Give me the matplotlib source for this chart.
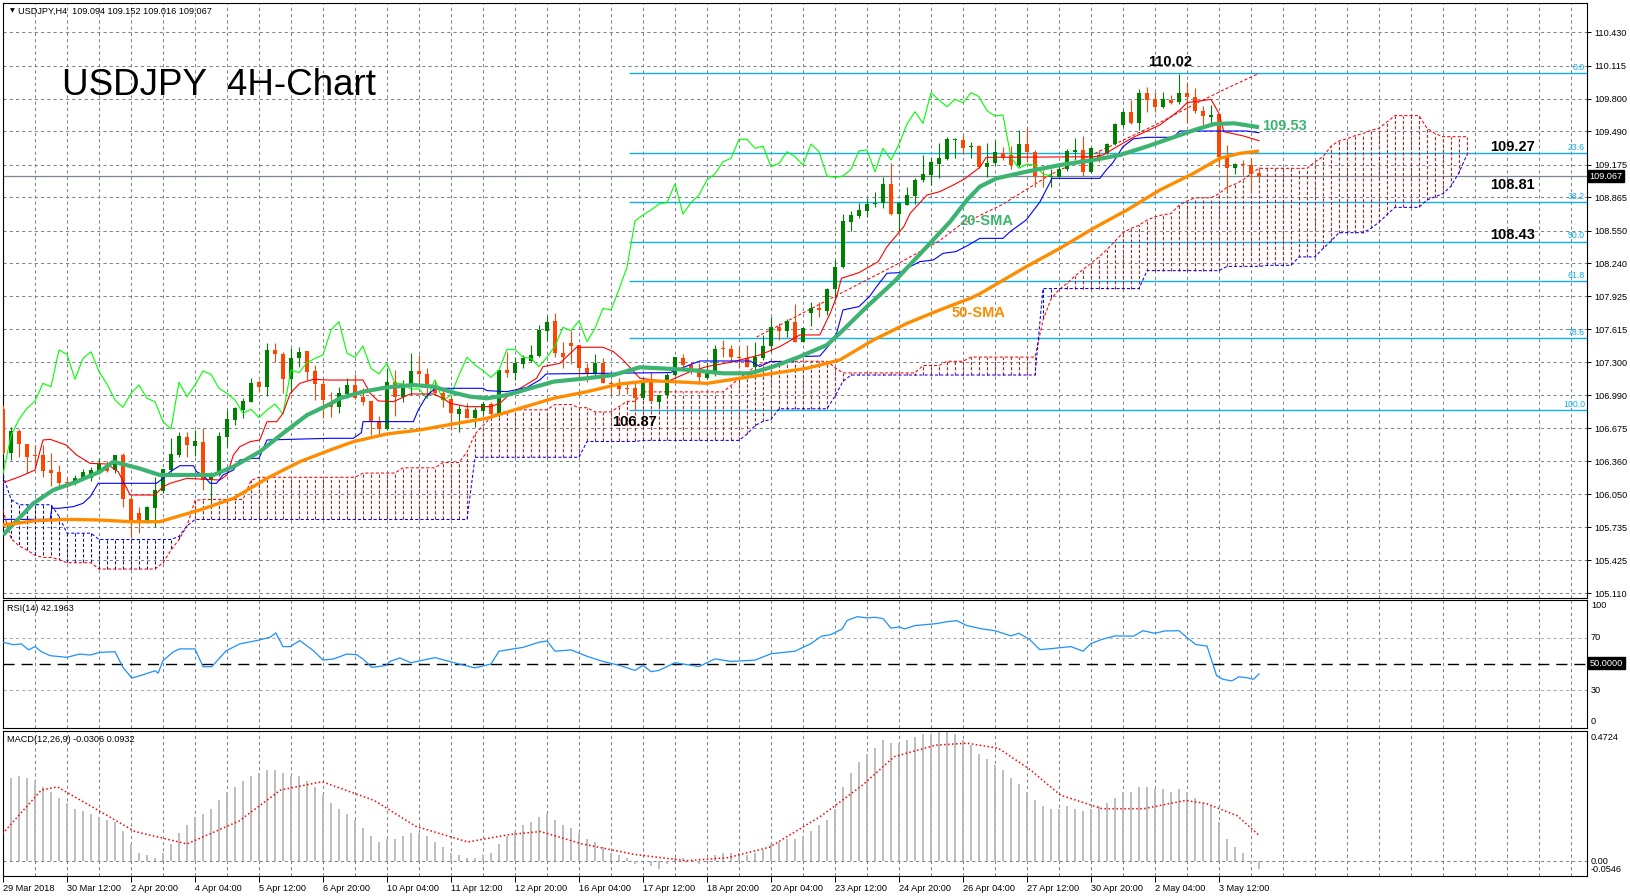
import numpy as np
import pandas as pd
import matplotlib
matplotlib.use("Agg")
import matplotlib.pyplot as plt

plt.rcParams['font.family'] = ['Liberation Sans', 'DejaVu Sans']

# ---------------- data (bar 1 = 29 Mar 2018 04:00, bar 158 = 4 May 08:00) ----------------
opens = [106.854, 106.443, 106.652, 106.526, 106.421, 106.424, 106.279, 106.260, 106.165, 106.153,
         106.191, 106.200, 106.270, 106.326, 106.279, 106.421, 106.001, 105.868, 105.789, 105.922,
         106.083, 106.279, 106.421, 106.595, 106.507, 106.541, 106.184, 106.232, 106.595, 106.753,
         106.848, 106.927, 107.117, 107.069, 107.417, 107.376, 107.139, 107.338, 107.408, 107.221,
         107.095, 106.927, 106.874, 107.000, 107.085, 106.968, 106.937, 106.738, 106.668, 107.111,
         106.975, 107.076, 107.218, 107.187, 107.076, 107.006, 106.950, 106.810, 106.855, 106.776,
         106.842, 106.905, 106.810, 107.228, 107.202, 107.285, 107.316, 107.360, 107.600, 107.692,
         107.386, 107.487, 107.465, 107.243, 107.190, 107.297, 107.101, 107.095, 107.054, 107.054,
         106.959, 107.139, 106.927, 106.991, 107.180, 107.345, 107.275, 107.219, 107.155, 107.203,
         107.433, 107.424, 107.354, 107.338, 107.260, 107.338, 107.455, 107.632, 107.600, 107.686,
         107.496, 107.772, 107.812, 107.790, 107.993, 108.202, 108.635, 108.688, 108.739, 108.799,
         108.815, 108.992, 108.707, 108.793, 108.878, 109.030, 109.077, 109.182, 109.229, 109.409,
         109.409, 109.339, 109.351, 109.156, 109.194, 109.282, 109.266, 109.171, 109.371, 109.298,
         109.067, 109.054, 109.061, 109.130, 109.298, 109.314, 109.108, 109.266, 109.282, 109.367,
         109.550, 109.677, 109.573, 109.851, 109.794, 109.724, 109.788, 109.772, 109.857, 109.820,
         109.687, 109.630, 109.655, 109.244, 109.140, 109.178, 109.171, 109.094]
highs = [106.900, 106.690, 106.665, 106.530, 106.516, 106.516, 106.437, 106.326, 106.210, 106.230,
         106.285, 106.310, 106.390, 106.367, 106.421, 106.437, 106.026, 105.931, 105.938, 106.216,
         106.289, 106.586, 106.643, 106.643, 106.658, 106.674, 106.263, 106.643, 106.848, 106.880,
         106.959, 107.148, 107.132, 107.487, 107.487, 107.401, 107.433, 107.449, 107.408, 107.275,
         107.132, 107.022, 107.070, 107.149, 107.190, 107.054, 106.937, 106.792, 107.243, 107.228,
         107.130, 107.386, 107.370, 107.243, 107.130, 107.038, 106.975, 106.896, 106.912, 106.880,
         106.927, 106.927, 107.228, 107.402, 107.348, 107.370, 107.465, 107.654, 107.740, 107.771,
         107.496, 107.600, 107.465, 107.290, 107.380, 107.338, 107.130, 107.149, 107.100, 107.101,
         107.165, 107.212, 106.991, 107.196, 107.354, 107.380, 107.307, 107.291, 107.307, 107.465,
         107.512, 107.465, 107.449, 107.465, 107.496, 107.560, 107.734, 107.670, 107.708, 107.854,
         107.623, 107.876, 107.876, 108.002, 108.271, 108.707, 108.739, 108.808, 108.856, 108.919,
         109.061, 109.188, 108.824, 108.967, 109.045, 109.267, 109.245, 109.377, 109.440, 109.425,
         109.456, 109.393, 109.361, 109.383, 109.408, 109.345, 109.352, 109.503, 109.528, 109.314,
         109.124, 109.130, 109.187, 109.320, 109.424, 109.446, 109.345, 109.314, 109.383, 109.573,
         109.693, 109.788, 109.889, 109.914, 109.867, 109.867, 109.835, 110.034, 109.962, 109.898,
         109.731, 109.740, 109.655, 109.361, 109.187, 109.219, 109.235, 109.152]
lows = [106.430, 106.374, 106.399, 106.254, 106.295, 106.216, 106.127, 106.121, 106.105, 106.137,
        106.184, 106.178, 106.241, 106.260, 106.248, 105.931, 105.631, 105.685, 105.773, 105.742,
        106.058, 106.263, 106.405, 106.405, 106.415, 106.090, 105.979, 106.222, 106.500, 106.706,
        106.769, 106.927, 107.022, 106.981, 107.306, 107.006, 107.006, 107.259, 107.132, 106.943,
        106.769, 106.785, 106.823, 106.959, 106.950, 106.896, 106.611, 106.605, 106.659, 106.795,
        106.927, 106.990, 107.101, 106.959, 106.990, 106.880, 106.659, 106.637, 106.770, 106.690,
        106.801, 106.785, 106.785, 107.165, 107.133, 107.243, 107.307, 107.354, 107.512, 107.348,
        107.243, 107.285, 107.165, 107.117, 107.165, 107.100, 106.990, 106.990, 106.999, 106.850,
        106.943, 106.927, 106.880, 106.981, 107.171, 107.244, 107.190, 107.095, 107.139, 107.171,
        107.354, 107.307, 107.244, 107.254, 107.196, 107.323, 107.402, 107.512, 107.544, 107.496,
        107.496, 107.645, 107.727, 107.749, 107.892, 108.192, 108.549, 108.666, 108.682, 108.777,
        108.761, 108.698, 108.549, 108.793, 108.802, 109.014, 108.982, 109.045, 109.219, 109.235,
        109.276, 109.235, 109.140, 109.061, 109.172, 109.219, 109.130, 109.155, 109.203, 108.960,
        108.966, 108.960, 109.045, 109.118, 109.219, 109.067, 109.099, 109.203, 109.276, 109.358,
        109.535, 109.560, 109.503, 109.677, 109.677, 109.709, 109.750, 109.750, 109.573, 109.661,
        109.551, 109.566, 109.150, 108.918, 109.086, 109.077, 108.903, 109.016]
closes = [106.443, 106.652, 106.522, 106.406, 106.412, 106.270, 106.254, 106.159, 106.153, 106.200,
          106.260, 106.279, 106.336, 106.273, 106.421, 106.001, 105.773, 105.799, 105.931, 106.089,
          106.289, 106.431, 106.601, 106.513, 106.554, 106.184, 106.241, 106.605, 106.760, 106.864,
          106.933, 107.101, 107.069, 107.417, 107.376, 107.139, 107.338, 107.401, 107.212, 107.095,
          106.943, 106.874, 107.006, 107.085, 106.959, 106.927, 106.738, 106.668, 107.111, 106.975,
          107.085, 107.218, 107.187, 107.054, 107.006, 106.943, 106.817, 106.855, 106.776, 106.848,
          106.905, 106.810, 107.228, 107.202, 107.297, 107.338, 107.370, 107.607, 107.686, 107.386,
          107.348, 107.455, 107.243, 107.190, 107.291, 107.101, 107.095, 107.048, 107.048, 106.959,
          107.133, 106.937, 106.991, 107.180, 107.348, 107.275, 107.222, 107.158, 107.228, 107.424,
          107.424, 107.348, 107.338, 107.260, 107.348, 107.455, 107.632, 107.600, 107.696, 107.496,
          107.623, 107.812, 107.797, 107.993, 108.202, 108.641, 108.698, 108.745, 108.802, 108.815,
          108.992, 108.707, 108.815, 108.887, 109.030, 109.087, 109.203, 109.235, 109.415, 109.415,
          109.330, 109.351, 109.156, 109.187, 109.298, 109.251, 109.171, 109.371, 109.298, 109.067,
          109.054, 109.067, 109.130, 109.307, 109.314, 109.108, 109.330, 109.219, 109.367, 109.561,
          109.677, 109.566, 109.857, 109.788, 109.724, 109.794, 109.762, 109.857, 109.820, 109.687,
          109.636, 109.645, 109.244, 109.140, 109.181, 109.171, 109.086, 109.067]

# moving averages (bar, value)
sma20_i = [1, 4.8, 7.3, 10.2, 13.1, 14.8, 18, 20.6, 24, 27.3, 29.8, 33.1, 36, 39, 41.9, 43.1, 46, 49,
           52.3, 54.8, 57.3, 59.4, 61.5, 64, 66.9, 69.8, 74, 77.3, 80.6, 83.1, 86.9, 91, 94.4, 97.3,
           100.6, 104, 105.6, 109, 112.4, 116.1, 119.4, 121.5, 123.1, 125.2, 128.9, 133.1, 137.3,
           140.6, 143.9, 147.3, 149.9, 152.4, 154.9, 158]
sma20_v = [105.663, 105.963, 106.09, 106.168, 106.263, 106.358, 106.295, 106.232, 106.232, 106.232,
           106.311, 106.453, 106.627, 106.8, 106.905, 106.959, 107.022, 107.063, 107.085, 107.07,
           107.013, 106.975, 106.959, 106.99, 107.054, 107.117, 107.149, 107.18, 107.253, 107.244,
           107.228, 107.196, 107.196, 107.26, 107.354, 107.465, 107.576, 107.829, 108.066, 108.366,
           108.635, 108.84, 108.966, 109.045, 109.108, 109.171, 109.219, 109.266, 109.345, 109.434,
           109.503, 109.56, 109.567, 109.53]
sma50_i = [1, 5, 9, 13, 17, 20.6, 22.7, 25.6, 29.8, 34, 38.1, 41.9, 44.8, 49, 53.1, 57.3, 61.5, 65.6,
           69.8, 74, 78.1, 81.9, 84.8, 89, 93.1, 97.3, 101.5, 105.6, 109.8, 114, 118.1, 121.9, 123.1,
           128.9, 133.1, 137.3, 141.5, 145.6, 149.8, 153.1, 155.6, 158]
sma50_v = [105.757, 105.798, 105.811, 105.805, 105.789, 105.789, 105.836, 105.9, 106.01, 106.2,
           106.358, 106.469, 106.548, 106.621, 106.659, 106.716, 106.77, 106.864, 106.959, 107.022,
           107.095, 107.125, 107.117, 107.101, 107.149, 107.196, 107.244, 107.323, 107.512, 107.67,
           107.797, 107.907, 107.95, 108.207, 108.381, 108.571, 108.745, 108.934, 109.092, 109.235,
           109.282, 109.304]

# Ichimoku lines (bar, value)
tenkan_i = [1, 3.1, 5, 6, 6.9, 8.9, 10.2, 11.9, 14, 15.4, 16.9, 20, 21, 21.9, 24, 28.1, 29, 29.8, 30.6,
            31.9, 33.1, 34, 35.2, 36, 36.9, 38.1, 39.8, 41.9, 46, 46.9, 47.9, 49.8, 51.9, 54.8, 56,
            56.9, 59, 61.9, 63.1, 64.1, 66, 67.7, 68.5, 70.6, 72.7, 76, 77.3, 78.5, 80.6, 84, 86.9,
            89, 92.3, 95.6, 98.1, 100.6, 103.1, 104.4, 105.2, 105.8, 108, 110.4, 111.5, 113.6, 114.4,
            116.5, 118.1, 119.8, 121.2, 123.1, 123.9, 137.3, 138.5, 140.6, 142.3, 145.6, 148.1, 149,
            152, 153, 153.6, 156.1, 158]
tenkan_v = [106.159, 106.216, 106.279, 106.564, 106.57, 106.516, 106.421, 106.342, 106.336, 106.263,
            106.042, 106.042, 106.121, 106.153, 106.2, 106.184, 106.232, 106.421, 106.5, 106.548,
            106.564, 106.737, 106.737, 106.816, 107.006, 107.101, 107.139, 107.132, 107.133, 107.006,
            106.934, 106.927, 107.0, 107.0, 106.959, 106.912, 106.88, 106.88, 106.912, 106.981,
            107.07, 107.149, 107.259, 107.291, 107.443, 107.443, 107.402, 107.323, 107.15, 107.117,
            107.212, 107.26, 107.307, 107.37, 107.449, 107.56, 107.56, 107.765, 107.923, 108.097,
            108.151, 108.255, 108.397, 108.587, 108.714, 108.887, 108.919, 108.982, 109.04, 109.149,
            109.244, 109.25, 109.266, 109.361, 109.434, 109.551, 109.693, 109.763, 109.794, 109.661,
            109.488, 109.446, 109.402]
kijun_i = [1, 6.9, 7.1, 8, 9.8, 11, 11.9, 12.9, 20.2, 21, 21.9, 23.1, 24.8, 25.2, 26, 26.9, 27.7, 28.5,
           29.8, 30.6, 32.3, 33, 34, 41.9, 44.8, 45.8, 46, 52.3, 52.9, 53.9, 55, 61, 61.5, 64, 66.5,
           68.1, 68.9, 84.4, 88.1, 94.4, 95.6, 96.9, 99.8, 100.2, 103.1, 104.1, 105.2, 106, 108,
           109.3, 110.2, 111.5, 113.1, 114, 115.6, 117.3, 118.5, 120.1, 121.7, 123.1, 126, 126.9,
           128.9, 130.6, 131.9, 132.1, 138.1, 138.9, 139.7, 141, 142.3, 144, 147.3, 148.1, 156.4, 158]
kijun_v = [105.811, 105.811, 105.916, 105.916, 105.932, 105.963, 106.026, 106.153, 106.153, 106.2,
           106.263, 106.32, 106.32, 106.263, 106.232, 106.153, 106.153, 106.232, 106.279, 106.374,
           106.39, 106.39, 106.564, 106.58, 106.58, 106.633, 106.738, 106.738, 106.848, 106.975,
           107.054, 107.054, 107.032, 107.022, 107.063, 107.133, 107.19, 107.203, 107.313, 107.313,
           107.26, 107.307, 107.307, 107.354, 107.36, 107.449, 107.576, 107.797, 107.829, 107.923,
           108.018, 108.145, 108.151, 108.192, 108.255, 108.271, 108.334, 108.35, 108.413, 108.476,
           108.476, 108.54, 108.65, 108.82, 109.01, 109.045, 109.045, 109.124, 109.19, 109.345,
           109.42, 109.434, 109.434, 109.494, 109.494, 109.478]
# Senkou spans per bar, bars 1..184 (cloud runs 26 bars past the last candle)
span_a = ([105.90, 105.63, 105.56, 105.52, 105.47, 105.45, 105.45, 105.43] + [105.40] * 4 + [105.34] * 8
          + [105.40, 105.52, 105.62, 105.75, 105.99] + [106.00] * 6 + [106.18] + [106.21] * 13
          + [106.25] * 5 + [106.30] * 5 + [106.35] * 3 + [106.45, 106.62, 106.70, 106.78, 106.83, 106.83]
          + [106.85] * 5 + [106.90] * 3 + [106.87] * 2 + [106.83] * 3 + [106.88, 106.93, 106.93]
          + [107.02] * 11 + [107.08, 107.15, 107.20, 107.26, 107.29] + [107.31] * 8 + [107.25]
          + [107.20] * 10 + [107.27] * 3 + [107.31] * 3 + [107.35] * 9
          + [107.70, 107.90, 107.99, 108.05, 108.12, 108.18, 108.24, 108.30, 108.37, 108.45, 108.53,
             108.57, 108.60, 108.65, 108.68, 108.70, 108.71, 108.79, 108.83, 108.86, 108.86, 108.86,
             108.90, 108.96, 108.99, 109.03, 109.09]
          + [109.14] * 7 + [109.20, 109.25, 109.35, 109.40, 109.42, 109.45, 109.47, 109.50, 109.52, 109.58]
          + [109.64] * 4 + [109.52, 109.47] + [109.44] * 4)
span_b = ([106.23, 106.00] + [105.95] * 5 + [105.84] + [105.68] * 4 + [105.62] * 10 + [105.65, 105.75]
          + [105.81] * 35 + [106.40] * 14 + [106.55] * 7 + [106.56] * 13 + [106.62, 106.70, 106.74, 106.76]
          + [106.86] * 7 + [106.98, 107.12] + [107.18] * 24 + [108.00] * 13 + [108.17] * 10
          + [108.21] * 5 + [108.22] * 4 + [108.30] * 3 + [108.38, 108.45] + [108.53] * 4
          + [108.57, 108.63, 108.70] + [108.77] * 4 + [108.84, 108.87, 108.90, 108.97, 109.10, 109.27])

# red dashed rising line
trend_i = [95.2, 105.6, 112, 118, 120.6, 126, 131.9, 138, 145, 150, 154, 158]
trend_v = [107.54, 107.95, 108.2, 108.45, 108.6, 108.8, 109.08, 109.3, 109.55, 109.75, 109.9, 110.04]

# RSI(14) (bar, value)
rsi_i = [1, 2.3, 3.3, 4.2, 5, 5.8, 6.9, 9, 10.6, 11.9, 13.1, 15, 16, 17.1, 18.5, 20, 20.4, 21, 22.3, 23.1,
         25, 26, 27.1, 28.9, 30.6, 32.7, 34.4, 35.1, 36, 36.9, 38.1, 39.8, 41, 42.3, 44, 45.2, 46,
         47.1, 48.8, 49.4, 50.6, 52, 55, 58, 60, 62, 63, 66, 68, 69, 70, 72, 74, 76, 78, 80, 81, 82,
         83, 85, 88, 90, 92, 95, 97, 100, 102, 103.3, 104.5, 105.9, 106.5, 107.8, 109, 110, 111, 112,
         113, 113.7, 115, 117.6, 119, 120.2, 121.5, 123.4, 125, 127, 128, 129.3, 130.6, 132, 134.5,
         136, 137, 138.4, 140, 142.3, 143.5, 145, 146.2, 148, 148.8, 150.1, 151.5, 152.7, 153.5,
         154.6, 155.5, 156.6, 157.3, 158]
rsi_v = [66.97, 65.1, 65.7, 61.0, 63.6, 59.6, 56.5, 55.2, 57.8, 57.0, 59.1, 59.6, 47.4, 39.0, 41.6, 44.7,
         42.9, 52.6, 59.6, 61.8, 61.8, 47.9, 47.9, 60.4, 65.7, 68.3, 70.9, 74.3, 63.6, 63.6, 68.3, 60.4,
         53.1, 53.9, 57.8, 57.3, 53.9, 47.4, 48.7, 52.1, 54.7, 51, 55, 50, 47, 50, 60, 63, 67, 68, 60,
         61, 56, 52, 49, 45, 49, 44, 45, 51, 48, 54, 52, 53, 58, 60, 66, 71.7, 73, 77.4, 84, 87, 86,
         86.5, 85.5, 78, 79, 77.4, 80, 81.5, 83, 83.9, 80, 77.4, 76, 72, 74, 69.3, 61.2, 62, 63.6, 60,
         66, 69.3, 72, 71.7, 76, 74, 75.8, 76, 71.7, 65.2, 64, 40.9, 38, 36.8, 40, 39.2, 38, 42.2]

# MACD(12,26,9) main per bar 1..158 and signal (bar, value)
macd_main = [0.29, 0.30, 0.31, 0.30, 0.29, 0.27, 0.25, 0.23, 0.21, 0.19, 0.18, 0.17, 0.16, 0.15, 0.14,
             0.11, 0.06, 0.03, 0.02, 0.01, 0.03, 0.06, 0.10, 0.13, 0.16, 0.17, 0.19, 0.22, 0.25, 0.27,
             0.29, 0.31, 0.32, 0.33, 0.33, 0.32, 0.31, 0.31, 0.29, 0.27, 0.24, 0.21, 0.19, 0.17, 0.15,
             0.12, 0.09, 0.07, 0.08, 0.08, 0.09, 0.10, 0.10, 0.09, 0.07, 0.05, 0.03, 0.02, 0.01, 0.01,
             0.02, 0.03, 0.06, 0.09, 0.11, 0.13, 0.14, 0.16, 0.17, 0.15, 0.13, 0.12, 0.10, 0.08, 0.07,
             0.05, 0.03, 0.02, 0.01, -0.01, 0.00, -0.02, -0.03, -0.01, 0.01, 0.01, 0.00, -0.01, 0.00,
             0.02, 0.03, 0.03, 0.03, 0.02, 0.03, 0.04, 0.06, 0.07, 0.08, 0.08, 0.09, 0.11, 0.13, 0.15,
             0.19, 0.27, 0.32, 0.36, 0.39, 0.41, 0.44, 0.43, 0.43, 0.44, 0.45, 0.46, 0.46, 0.47, 0.47,
             0.46, 0.44, 0.42, 0.39, 0.37, 0.35, 0.33, 0.30, 0.28, 0.25, 0.22, 0.20, 0.19, 0.19, 0.20,
             0.19, 0.18, 0.19, 0.20, 0.21, 0.23, 0.25, 0.25, 0.27, 0.27, 0.26, 0.26, 0.25, 0.26, 0.25,
             0.23, 0.21, 0.20, 0.14, 0.08, 0.05, 0.03, -0.01, -0.0306]
sig_i = [0.6, 5.8, 7.8, 17.5, 24, 30.5, 35.7, 40.9, 47.4, 52.6, 59.1, 64.3, 68.2, 73.4, 79.9, 86.4, 91.6,
         96.8, 103.3, 108.5, 112.4, 117.6, 121.5, 125.4, 129.3, 133.2, 138.4, 143.6, 148.8, 151.4,
         155.3, 158]
sig_v = [0.088, 0.258, 0.269, 0.107, 0.062, 0.145, 0.258, 0.288, 0.22, 0.126, 0.069, 0.096, 0.107,
         0.062, 0.024, 0.001, 0.012, 0.05, 0.164, 0.277, 0.379, 0.421, 0.428, 0.41, 0.334, 0.239, 0.19,
         0.19, 0.22, 0.209, 0.164, 0.0932]

price_ticks = [110.430, 110.115, 109.800, 109.490, 109.175, 108.865, 108.550, 108.240, 107.925,
               107.615, 107.300, 106.990, 106.675, 106.360, 106.050, 105.735, 105.425, 105.110]
fib_levels = [0.0, 23.6, 38.2, 50.0, 61.8, 78.6, 100.0]
fib_high, fib_low = 110.04, 106.85
last_price = 109.067

# ---------------- layout ----------------
W, H = 1630, 896
fig = plt.figure(figsize=(W / 100, H / 100), dpi=100)
fig.patch.set_facecolor('white')


def pax(x0, y0, x1, y1):
    return fig.add_axes([x0 / W, 1 - y1 / H, (x1 - x0) / W, (y1 - y0) / H])


def xb(px):  # pixel column -> bar index (8 px per bar)
    return (px + 5.0) / 8.0


def ftext(x, y, s, **kw):
    return fig.text(x / W, 1 - y / H, s, **kw)


ax = pax(3, 3, 1587, 598)
axr = pax(3, 600, 1587, 728)
axm = pax(3, 731, 1587, 876)
XL = (xb(3), xb(1587))
for a in (ax, axr, axm):
    a.set_xlim(*XL)
    a.set_facecolor('white')
    for s in a.spines.values():
        s.set_color('black')
        s.set_linewidth(0.8)
    a.tick_params(axis='x', which='both', bottom=False, labelbottom=False)
    a.yaxis.tick_right()


def pyy(y):
    return 110.43 - (y - 32.3) / 105.45


ax.set_ylim(pyy(598), pyy(3))
axr.set_ylim(0, 100)
axm.set_ylim(-0.0546, 0.4724)

GRID = '#7a8590'
GLS = (0, (3, 3))
vgrid = np.arange(1, 200, 4)
for a in (ax, axr, axm):
    for xv in vgrid:
        a.axvline(xv, color=GRID, lw=0.75, ls=GLS, zorder=0)
for p in price_ticks:
    ax.axhline(p, color=GRID, lw=0.75, ls=GLS, zorder=0)

bars = np.arange(1, len(closes) + 1)
O, Hh, L, C = map(np.array, (opens, highs, lows, closes))

# fibonacci
fib_col = '#12AEEA'
fx0 = xb(629)
for lv in fib_levels:
    p = fib_high - lv / 100 * (fib_high - fib_low)
    ax.plot([fx0, XL[1]], [p, p], color=fib_col, lw=1.0, zorder=2, solid_capstyle='butt')
    ax.text(xb(1585), p + 0.012, f"{lv:.1f}", color=fib_col, fontsize=6.3, ha='right', va='bottom', zorder=3)

# current price line
ax.axhline(last_price, color='#7c8791', lw=0.9, zorder=1)

# cloud
sa = np.array(span_a)
sb = np.array(span_b)
cb = np.arange(1, len(sa) + 1)
for k in range(len(cb)):
    col = '#ff0000' if sa[k] >= sb[k] else '#0000ff'
    ax.plot([cb[k], cb[k]], [sb[k], sa[k]], color=col, lw=0.75, ls=(0, (3, 2)), zorder=3)
ax.plot(cb, sa, color='#ff0000', lw=0.75, ls=(0, (3, 2)), zorder=3)
ax.plot(cb, sb, color='#0000ff', lw=0.75, ls=(0, (3, 2)), zorder=3)
ax.plot(trend_i, trend_v, color='#ff0000', lw=0.75, ls=(0, (3, 2)), zorder=3)

# candles
UP, DN = '#008000', '#FF4500'
cols = np.where(C >= O, UP, DN)
ax.vlines(bars, L, Hh, colors=cols, lw=0.8, zorder=4)
blo = np.minimum(O, C)
bh = np.maximum(np.abs(C - O), 0.01)
ax.bar(bars, bh, bottom=blo, width=0.62, color=cols, lw=0, zorder=4)

# indicator lines
ax.plot(bars - 26, C, color='#00ff00', lw=0.8, zorder=5)          # chikou span
ax.plot(tenkan_i, tenkan_v, color='#ff0000', lw=0.8, zorder=5)
ax.plot(kijun_i, kijun_v, color='#0000ff', lw=0.8, zorder=5)
ax.plot(sma20_i, sma20_v, color='#3CB371', lw=3.0, zorder=6, solid_capstyle='butt')
ax.plot(sma50_i, sma50_v, color='#FF8C00', lw=2.4, zorder=6, solid_capstyle='butt')

# price axis
ax.set_yticks(price_ticks)
ax.set_yticklabels([f"{p:.3f}" for p in price_ticks])
ax.tick_params(axis='y', which='both', right=True, left=False, labelright=True, labelleft=False,
               length=3, width=0.7, pad=2, labelsize=6.6, colors='black')
ax.text(1.0016, last_price, f"{last_price:.3f}", transform=ax.get_yaxis_transform(), fontsize=6.6,
        color='white', va='center', ha='left', zorder=10,
        bbox=dict(boxstyle='square,pad=0.18', fc='black', ec='black'))

# annotations
ftext(62, 95, 'USDJPY  4H-Chart', fontsize=26.5, va='baseline', ha='left', color='black')
ftext(10, 11, '\u25BC', fontsize=4.5, va='center', ha='left', family='DejaVu Sans')
ftext(18, 11, 'USDJPY,H4  109.094 109.152 109.016 109.067', fontsize=6.6, va='center', ha='left')
bold = dict(fontsize=10.5, fontweight='bold', va='center', zorder=12)
ax.text(xb(1170), pyy(62), '110.02', ha='center', color='black', **bold)
ax.text(xb(1262), pyy(126), '109.53', ha='left', color='#3CB371', **bold)
ax.text(xb(1490), pyy(147), '109.27', ha='left', color='black', **bold)
ax.text(xb(1490), pyy(185), '108.81', ha='left', color='black', **bold)
ax.text(xb(1490), pyy(235), '108.43', ha='left', color='black', **bold)
ax.text(xb(612), pyy(422), '106.87', ha='left', color='black', **bold)
ax.text(xb(960), pyy(221), '20-SMA', ha='left', color='#3CB371', **bold)
ax.text(xb(952), pyy(313), '50-SMA', ha='left', color='#FF8C00', **bold)

# RSI panel
for lvl in (70, 30):
    axr.axhline(lvl, color='#a9a9a9', lw=0.75, ls=GLS, zorder=0)
axr.axhline(50, color='black', lw=1.0, ls=(0, (8, 5)), zorder=1)
axr.plot(rsi_i, rsi_v, color='#1E90FF', lw=0.9, zorder=3)
axr.set_yticks([])
ftext(7, 608, 'RSI(14) 42.1963', fontsize=6.6, va='center', ha='left')
for v, yy in ((100, 605), (70, 637), (30, 690), (0, 722)):
    ftext(1591, yy, str(v), fontsize=6.6, va='center', ha='left')
ftext(1590, 663, '50.0000', fontsize=6.6, va='center', ha='left', color='white',
      bbox=dict(boxstyle='square,pad=0.18', fc='black', ec='black'))

# MACD panel
axm.axhline(0, color=GRID, lw=0.75, ls=GLS, zorder=0)
axm.vlines(bars, 0, macd_main, colors='#b8b8b8', lw=1.3, zorder=2)
axm.plot(sig_i, sig_v, color='#ff0000', lw=1.1, ls=(0, (1, 1.6)), zorder=3)
axm.set_yticks([])
ftext(7, 739, 'MACD(12,26,9) -0.0306 0.0932', fontsize=6.6, va='center', ha='left')
ftext(1591, 737, '0.4724', fontsize=6.6, va='center', ha='left')
ftext(1591, 861, '0.00', fontsize=6.6, va='center', ha='left')
ftext(1591, 869, '-0.0546', fontsize=6.6, va='center', ha='left')

# time axis
times = pd.date_range('2018-03-29 00:00', '2018-05-04 08:00', freq='4h')
times = times[times.dayofweek < 5]
lab_idx = list(range(1, len(times), 8))
labels = []
for k in lab_idx:
    t = times[k]
    labels.append('29 Mar 2018' if k == 1 else f"{t.day} {t:%b %H:%M}")
axm.set_xticks(lab_idx)
axm.set_xticklabels(labels, ha='left', fontsize=6.6)
axm.tick_params(axis='x', bottom=True, labelbottom=True, length=4, width=0.7, pad=1.5)
for t in axm.get_xticklabels():
    t.set_horizontalalignment('left')

fig.savefig('out.png', dpi=100, facecolor='white')
